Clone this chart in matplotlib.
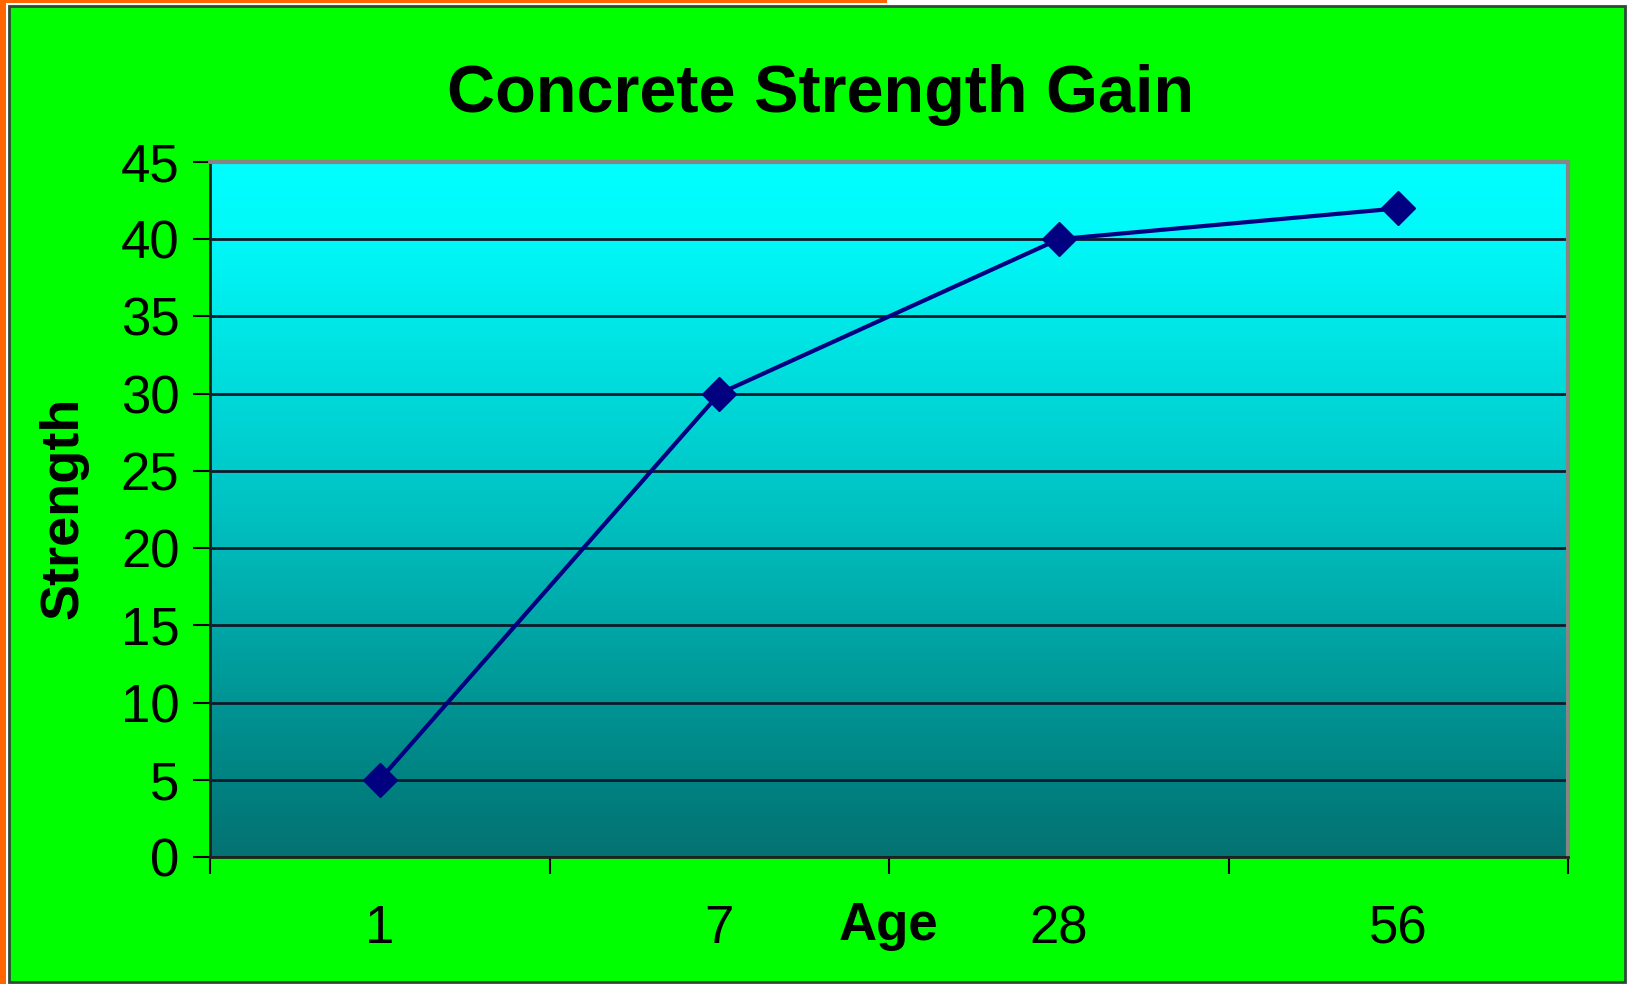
import matplotlib
matplotlib.use("Agg")
import matplotlib.pyplot as plt
import numpy as np
from matplotlib.patches import Rectangle
from matplotlib.colors import LinearSegmentedColormap

ages = ["1", "7", "28", "56"]
strength = [5, 30, 40, 42]
yticks = [0, 5, 10, 15, 20, 25, 30, 35, 40, 45]

plt.rcParams['font.family'] = ['Liberation Sans', 'DejaVu Sans']

W, H = 1627, 984
fig = plt.figure(figsize=(W / 100, H / 100), dpi=100, facecolor='white')

def px(x0, y0, x1, y1):
    return (x0 / W, 1 - y1 / H, (x1 - x0) / W, (y1 - y0) / H)

# outer decorations
x, y, w, h = px(0, 0, 6, H)
fig.patches.append(Rectangle((x, y), w, h, transform=fig.transFigure, facecolor='#FF6600', edgecolor='none', zorder=-10))
x, y, w, h = px(0, 0, 887, 3)
fig.patches.append(Rectangle((x, y), w, h, transform=fig.transFigure, facecolor='#FF6600', edgecolor='none', zorder=-10))
x, y, w, h = px(9, 6, 1625, 982)
fig.patches.append(Rectangle((x, y), w, h, transform=fig.transFigure, facecolor='#00FF00', edgecolor='#2E4A35', linewidth=2, zorder=-10))

ax = fig.add_axes([210 / W, 1 - 857 / H, (1568 - 210) / W, (857 - 162) / H])
ax.set_facecolor('none')
ax.set_zorder(1)

n = len(ages)
ax.set_xlim(0, n)
ax.set_ylim(0, 45)

cmap = LinearSegmentedColormap.from_list('g', [
    (0.0, '#057272'), (0.11, '#008282'), (0.33, '#00A6A6'), (0.5, '#00C2C2'),
    (0.67, '#00DADA'), (0.89, '#00F8F8'), (1.0, '#00FFFF')])
grad = np.linspace(0, 1, 512).reshape(-1, 1)
ax.imshow(grad, extent=(0, n, 0, 45), origin='lower', aspect='auto', cmap=cmap, zorder=0)

xpos = np.arange(n) + 0.5
ax.plot(xpos, strength, color='#000080', linewidth=3, marker='D', markersize=17,
        markerfacecolor='#000080', markeredgecolor='#000080', zorder=3)

ax.set_yticks(yticks)
ax.set_yticklabels([str(v) for v in yticks], fontsize=38)
ax.yaxis.grid(True, color='#0E1A2A', linewidth=2)
ax.tick_params(axis='y', direction='out', length=12, width=1.5, pad=10, colors='black')

ax.set_xticks(np.arange(n + 1))
ax.set_xticklabels([])
ax.set_xticks(xpos, minor=True)
ax.set_xticklabels(ages, minor=True, fontsize=38)
ax.tick_params(axis='x', which='major', direction='out', length=12, width=1.5)
ax.tick_params(axis='x', which='minor', length=0, pad=34)

for s in ['top', 'right']:
    ax.spines[s].set_color('#858585')
    ax.spines[s].set_linewidth(3)
for s in ['left', 'bottom']:
    ax.spines[s].set_color('#202020')
    ax.spines[s].set_linewidth(2)

ax.annotate('Age', xy=(n / 2, 0), xycoords='data', xytext=(0, -50), textcoords='offset points',
            ha='center', va='center', fontsize=38, fontweight='bold')

fig.text(63 / W, 1 - 508 / H, 'Strength', rotation=90, ha='center', va='center',
         fontsize=39, fontweight='bold')
fig.text(821 / W, 1 - 95 / H, 'Concrete Strength Gain', ha='center', va='center',
         fontsize=48, fontweight='bold')

fig.savefig('out.png', dpi=100, facecolor='white')
